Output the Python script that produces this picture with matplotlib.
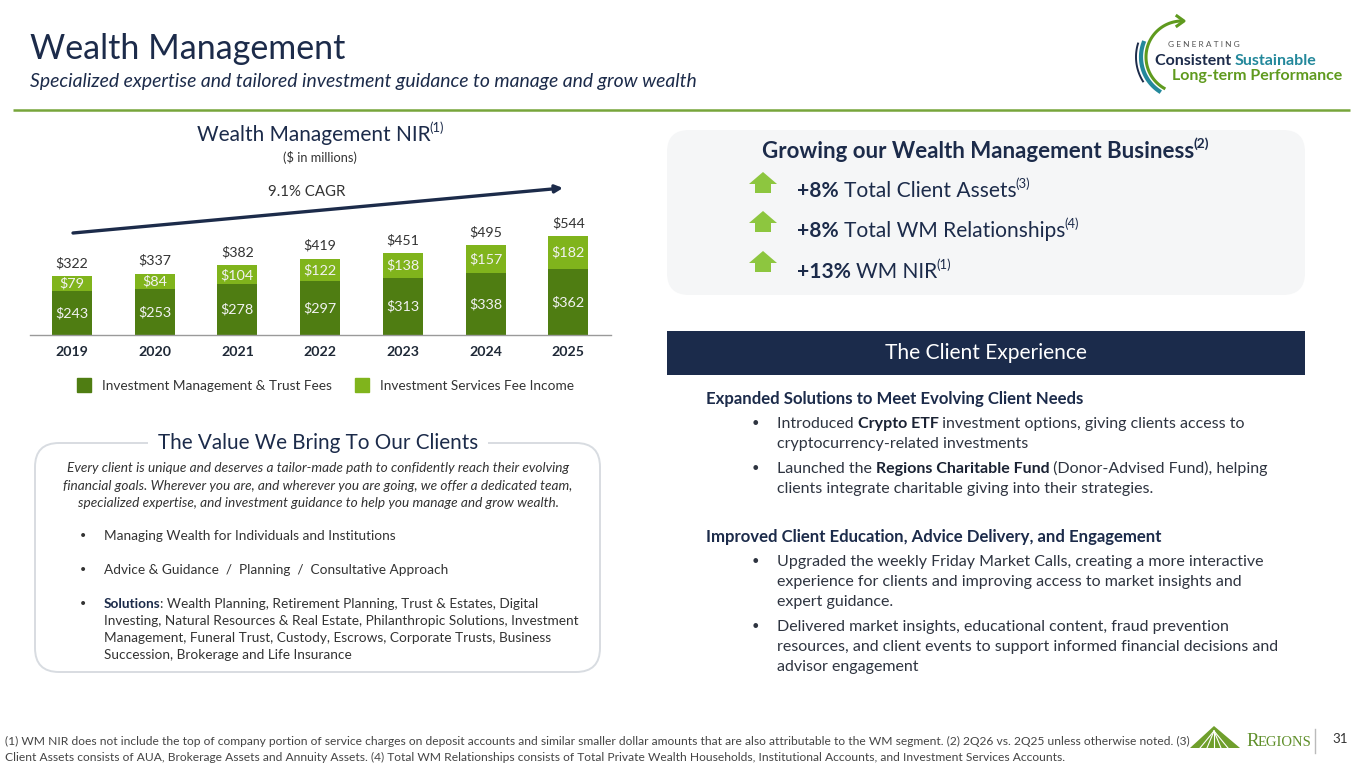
import matplotlib
matplotlib.use('Agg')
import matplotlib.pyplot as plt
import numpy as np
from matplotlib.patches import FancyBboxPatch, Rectangle, Polygon
from matplotlib.font_manager import FontProperties
from matplotlib import font_manager as fm

# ---------------- data ----------------
years = ['2019', '2020', '2021', '2022', '2023', '2024', '2025']
trust_fees = [243, 253, 278, 297, 313, 338, 362]
services_fees = [79, 84, 104, 122, 138, 157, 182]
totals = [322, 337, 382, 419, 451, 495, 544]
series_names = ['Investment Management & Trust Fees', 'Investment Services Fee Income']
cagr_label = '9.1% CAGR'
growth_pct = ['+8%', '+8%', '+13%']
growth_items = ['Total Client Assets', 'Total WM Relationships', 'WM NIR']
growth_notes = ['(3)', '(4)', '(1)']

# ---------------- style ----------------
W, H = 1365, 768
NAVY = '#1c2b4a'
TEXT = '#2e3440'
DARK_GREEN = '#4f7d12'
LIGHT_GREEN = '#80b41c'
ARROW_GREEN = '#8dc63f'
LINE_GREEN = '#77a53a'
TEAL = '#23889b'


def have(name):
    try:
        fm.findfont(FontProperties(family=name), fallback_to_default=False)
        return True
    except Exception:
        return False


BODY = 'Lato' if have('Lato') else 'DejaVu Sans'
NARROW = 'Liberation Sans Narrow' if have('Liberation Sans Narrow') else BODY
SERIF = 'Liberation Serif' if have('Liberation Serif') else 'DejaVu Serif'

fig = plt.figure(figsize=(W / 100, H / 100), dpi=100)
fig.patch.set_facecolor('white')
renderer = fig.canvas.get_renderer()
ov = fig.add_axes([0, 0, 1, 1])
ov.set_xlim(0, W)
ov.set_ylim(H, 0)
ov.axis('off')


def width_of(s, fp):
    w1 = renderer.get_text_width_height_descent('|' + s + '|', fp, ismath=False)[0]
    w2 = renderer.get_text_width_height_descent('||', fp, ismath=False)[0]
    return w1 - w2


def fit(s, target, family=None, weight='normal', style='normal'):
    fp = FontProperties(family=family or BODY, size=10, weight=weight, style=style)
    return 10.0 * target / width_of(s, fp)


def rich(x, yc, segs, size, ha='left', color=TEXT, family=None, z=5):
    fam = family or BODY
    px = size / 0.72
    base = yc + 0.34 * px
    parts = []
    total = 0
    for seg in segs:
        if isinstance(seg, str):
            s, o = seg, {}
        else:
            s, o = seg
        sz = size * (0.62 if o.get('sup') else o.get('scale', 1))
        fp = FontProperties(family=o.get('f', fam), size=sz,
                            weight=o.get('w', 'normal'), style=o.get('i', 'normal'))
        w = width_of(s, fp)
        if len(segs) > 1 and not s.endswith(' '):
            w -= 1.0
        parts.append((s, fp, o, w))
        total += w
    x0 = x - total / 2 if ha == 'center' else (x - total if ha == 'right' else x)
    for s, fp, o, w in parts:
        yy = base - (0.42 * px if o.get('sup') else 0)
        ov.text(x0, yy, s, fontproperties=fp, color=o.get('c', color),
                va='baseline', ha='left', parse_math=False, zorder=z)
        x0 += w
    return total


B = {'w': 'bold'}
SUP = {'sup': True}

# ---------------- header ----------------
ts = fit('Wealth Management', 315)
rich(30, 47, ['Wealth Management'], ts, color=NAVY)
ss = fit('Specialized expertise and tailored investment guidance to manage and grow wealth', 668, style='italic')
rich(30, 80, [('Specialized expertise and tailored investment guidance to manage and grow wealth', {'i': 'italic'})],
     ss, color=NAVY)
ov.plot([13, 1350], [110, 110], color=LINE_GREEN, lw=1.8, solid_capstyle='butt')

# logo (top right)
cx, cy = 1182, 57
t = np.radians(np.linspace(90, 240, 80))
ov.plot(cx + 36 * np.cos(t), cy - 36 * np.sin(t), color='#5f9a1e', lw=2.2)
ov.plot([1177, 1184, 1177], [16, 21, 26], color='#5f9a1e', lw=2.2)
t = np.radians(np.linspace(160, 236, 60))
ov.plot(cx + 41 * np.cos(t), cy - 41 * np.sin(t), color=TEAL, lw=3)
t = np.radians(np.linspace(163, 212, 40))
ov.plot(cx + 46 * np.cos(t), cy - 46 * np.sin(t), color=NAVY, lw=1.4)
rich(1168, 44, ['G E N E R A T I N G'], 6.0, color='#555555')
ls = fit('Consistent Sustainable', 162, weight='bold')
rich(1155, 60, [('Consistent ', {'w': 'bold', 'c': NAVY}), ('Sustainable', {'w': 'bold', 'c': TEAL})], ls)
rich(1172, 75, [('Long-term Performance', {'w': 'bold', 'c': '#5f9a1e'})], ls)

# ---------------- bar chart ----------------
rich(320, 134, ['Wealth Management NIR', ('(1)', SUP)], fit('Wealth Management NIR', 233), ha='center', color=NAVY)
rich(320, 158, ['($ in millions)'], 9.2, ha='center', color='#333333')

ax = fig.add_axes([30 / W, (H - 335) / H, 581 / W, 215 / H])
ax.set_facecolor('none')
x = np.arange(len(years))
bw = 0.484
ax.bar(x, trust_fees, bw, color=DARK_GREEN, zorder=2)
ax.bar(x, services_fees, bw, bottom=trust_fees, color=LIGHT_GREEN, zorder=2)
ax.set_xlim(-0.508, 6.517)
ax.set_ylim(0, 215 / 0.182)
for i in range(len(years)):
    ax.text(x[i], trust_fees[i] / 2, f'${trust_fees[i]}', ha='center', va='center',
            color='#f2f2f2', fontsize=10.4, family=BODY, parse_math=False, zorder=3)
    ax.text(x[i], trust_fees[i] + services_fees[i] / 2, f'${services_fees[i]}', ha='center', va='center',
            color='#f2f2f2', fontsize=10.4, family=BODY, parse_math=False, zorder=3)
    ax.text(x[i], totals[i] + 72, f'${totals[i]}', ha='center', va='center',
            color='#333333', fontsize=10.2, family=BODY, parse_math=False, zorder=3)
ax.set_xticks(x)
ax.set_xticklabels(years, fontsize=10.2, fontweight='bold', family=BODY, color='#1f2937')
ax.tick_params(axis='x', length=0, pad=8)
ax.set_yticks([])
for s in ['top', 'left', 'right']:
    ax.spines[s].set_visible(False)
ax.spines['bottom'].set_color('#9a9a9a')
ax.spines['bottom'].set_linewidth(1)

# CAGR arrow
ov.annotate('', xy=(563, 188), xytext=(73, 233),
            arrowprops=dict(arrowstyle='-|>', color=NAVY, lw=2.4, mutation_scale=11, shrinkA=0, shrinkB=0))
rich(307, 191, [cagr_label], 10.8, ha='center', color='#333333')

# legend
ov.add_patch(Rectangle((77, 378), 14, 14, color=DARK_GREEN))
rich(102, 385, [series_names[0]], 9.8, color='#333333')
ov.add_patch(Rectangle((355, 378), 14, 14, color=LIGHT_GREEN))
rich(380, 385, [series_names[1]], 9.8, color='#333333')

# ---------------- left value box ----------------
ov.add_patch(FancyBboxPatch((35, 443), 565, 229, boxstyle='round,pad=0,rounding_size=24',
                            facecolor='white', edgecolor='#d8dce1', lw=1.4, zorder=1))
ov.add_patch(Rectangle((148, 432), 340, 22, facecolor='white', edgecolor='none', zorder=2))
rich(318, 442, ['The Value We Bring To Our Clients'], fit('The Value We Bring To Our Clients', 320),
     ha='center', color=NAVY)
it_lines = ['Every client is unique and deserves a tailor-made path to confidently reach their evolving',
            'financial goals. Wherever you are, and wherever you are going, we offer a dedicated team,',
            'specialized expertise, and investment guidance to help you manage and grow wealth.']
its = fit(it_lines[0], 501, style='italic')
for k, yy in enumerate([467, 485, 502]):
    rich(318, yy, [(it_lines[k], {'i': 'italic'})], its, ha='center', color='#333333')
bs = fit('Investing, Natural Resources & Real Estate, Philanthropic Solutions, Investment', 472)
left_bul = [
    (535, True, ['Managing Wealth for Individuals and Institutions']),
    (569, True, ['Advice & Guidance  /  Planning  /  Consultative Approach']),
    (603, True, [('Solutions', {'w': 'bold', 'c': NAVY}), ': Wealth Planning, Retirement Planning, Trust & Estates, Digital']),
    (620, False, ['Investing, Natural Resources & Real Estate, Philanthropic Solutions, Investment']),
    (637, False, ['Management, Funeral Trust, Custody, Escrows, Corporate Trusts, Business']),
    (654, False, ['Succession, Brokerage and Life Insurance']),
]
for yy, bullet, segs in left_bul:
    if bullet:
        rich(80, yy, ['•'], bs * 0.8, color='#333333')
    rich(104, yy, segs, bs, color='#333333')

# ---------------- right growth panel ----------------
ov.add_patch(FancyBboxPatch((667, 130), 638, 165, boxstyle='round,pad=0,rounding_size=22',
                            facecolor='#f5f6f7', edgecolor='none', zorder=1))
ps = fit('Growing our Wealth Management Business', 432, weight='bold')
rich(985, 150, [('Growing our Wealth Management Business', B), ('(2)', {'w': 'bold', 'sup': True})], ps,
     ha='center', color=NAVY)
gs = fit('+8% Total Client Assets', 226) * 0.97
for k, (yy, ay) in enumerate(zip([190, 230, 271], [172, 211, 251])):
    ov.add_patch(Polygon([(749, ay + 12), (763, ay), (777, ay + 12), (771, ay + 12), (771, ay + 21),
                          (755, ay + 21), (755, ay + 12)], closed=True, facecolor=ARROW_GREEN,
                         edgecolor='none', zorder=3))
    rich(797, yy, [(growth_pct[k] + ' ', {'w': 'bold', 'c': NAVY}), growth_items[k], (growth_notes[k], SUP)],
         gs, color=NAVY)

# navy band
ov.add_patch(Rectangle((667, 331), 638, 44, facecolor='#1b2b4b', edgecolor='none', zorder=2))
rich(986, 352, ['The Client Experience'], fit('The Client Experience', 203), ha='center', color='white', z=6)

# right text
rs = fit('Introduced Crypto ETF investment options, giving clients access to', 470)
hs = fit('Expanded Solutions to Meet Evolving Client Needs', 381, weight='bold')
rich(706, 398, [('Expanded Solutions to Meet Evolving Client Needs', B)], hs, color=NAVY)
rich(706, 536, [('Improved Client Education, Advice Delivery, and Engagement', B)], hs, color=NAVY)
right_bul = [
    (423, True, ['Introduced ', ('Crypto ETF', B), ' investment options, giving clients access to']),
    (443, False, ['cryptocurrency-related investments']),
    (468, True, ['Launched the ', ('Regions Charitable Fund', B), ' (Donor-Advised Fund), helping']),
    (488, False, ['clients integrate charitable giving into their strategies.']),
    (561, True, ['Upgraded the weekly Friday Market Calls, creating a more interactive']),
    (581, False, ['experience for clients and improving access to market insights and']),
    (601, False, ['expert guidance.']),
    (626, True, ['Delivered market insights, educational content, fraud prevention']),
    (646, False, ['resources, and client events to support informed financial decisions and']),
    (666, False, ['advisor engagement']),
]
for yy, bullet, segs in right_bul:
    if bullet:
        rich(752, yy, ['•'], rs * 0.8, color=TEXT)
    segs2 = []
    for sg in segs:
        if isinstance(sg, str):
            segs2.append(sg)
        else:
            segs2.append((sg[0], {'w': 'bold', 'c': '#1a2233'}))
    rich(777, yy, segs2, rs, color=TEXT)

# ---------------- footnotes ----------------
fn1 = ('(1) WM NIR does not include the top of company portion of service charges on deposit accounts and similar '
       'smaller dollar amounts that are also attributable to the WM segment. (2) 2Q26 vs. 2Q25 unless otherwise noted. (3)')
fn2 = ('Client Assets consists of AUA, Brokerage Assets and Annuity Assets. (4) Total WM Relationships consists of '
       'Total Private Wealth Households, Institutional Accounts, and Investment Services Accounts.')
fs = fit(fn1, 1183, family=NARROW)
rich(5, 741, [fn1], fs, color='#444444', family=NARROW)
rich(5, 757, [fn2], fs, color='#444444', family=NARROW)

# Regions logo
ov.add_patch(Polygon([(1190, 748), (1214, 726), (1240, 748)], closed=True, facecolor='#6f9f2c',
                     edgecolor='none', zorder=3))
for xb in [1200, 1207, 1214, 1221, 1228]:
    ov.plot([1214, xb], [731, 748], color='white', lw=0.8, zorder=4)
rich(1246, 740, [('R', {'f': SERIF}), ('EGIONS', {'f': SERIF, 'scale': 0.78})], 13.5, color='#5f8f2a')
ov.plot([1315, 1315], [729, 753], color='#bbbbbb', lw=1)
rich(1340, 739, ['31'], 9.5, ha='center', color='#333333')

fig.savefig('out.png', dpi=100, facecolor='white')
